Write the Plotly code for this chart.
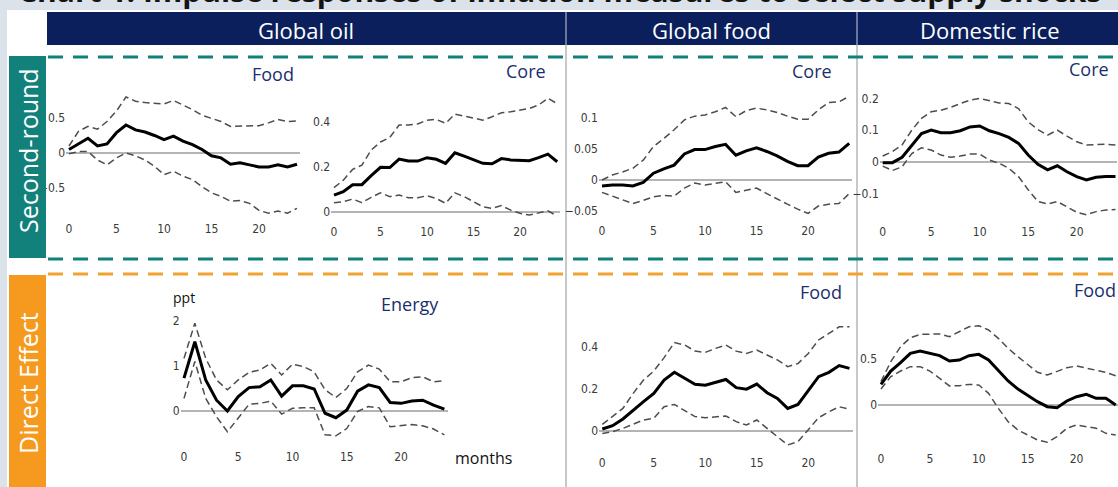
import plotly.graph_objects as go

# ---------------- data ----------------
months = list(range(25))
x_ticks = [0, 5, 10, 15, 20]

# Second-round: Global oil -> Food
oil_food_irf = [0.05, 0.13, 0.21, 0.10, 0.13, 0.29, 0.40, 0.33, 0.30, 0.25, 0.19, 0.24, 0.17,
                0.12, 0.05, -0.04, -0.07, -0.16, -0.14, -0.17, -0.20, -0.20, -0.17, -0.20, -0.16]
oil_food_hi = [0.10, 0.31, 0.38, 0.34, 0.45, 0.60, 0.80, 0.74, 0.72, 0.71, 0.70, 0.75, 0.69,
               0.62, 0.54, 0.50, 0.45, 0.38, 0.38, 0.38, 0.39, 0.43, 0.48, 0.45, 0.46]
oil_food_lo = [-0.01, 0.02, 0.02, -0.10, -0.17, -0.07, 0.00, -0.04, -0.10, -0.19, -0.31, -0.26, -0.33,
               -0.38, -0.48, -0.57, -0.62, -0.69, -0.68, -0.72, -0.82, -0.86, -0.83, -0.86, -0.79]

# Second-round: Global oil -> Core
oil_core_irf = [0.074, 0.089, 0.12, 0.12, 0.16, 0.197, 0.196, 0.234, 0.225, 0.225, 0.24, 0.233, 0.215,
                0.262, 0.247, 0.23, 0.215, 0.213, 0.236, 0.23, 0.228, 0.227, 0.24, 0.256, 0.222]
oil_core_hi = [0.107, 0.14, 0.188, 0.207, 0.274, 0.31, 0.33, 0.385, 0.385, 0.39, 0.407, 0.41, 0.393,
               0.434, 0.425, 0.415, 0.407, 0.422, 0.44, 0.444, 0.452, 0.459, 0.474, 0.504, 0.48]
oil_core_lo = [0.04, 0.044, 0.056, 0.04, 0.064, 0.084, 0.067, 0.074, 0.062, 0.062, 0.071, 0.059, 0.037,
               0.084, 0.067, 0.044, 0.022, 0.015, 0.027, 0.007, -0.007, -0.015, -0.004, 0.004, -0.019]

# Second-round: Global food -> Core
gfood_core_irf = [-0.0097, -0.008, -0.008, -0.0097, -0.004, 0.011, 0.018, 0.024, 0.042, 0.049, 0.049, 0.054,
                  0.0575, 0.040, 0.047, 0.052, 0.046, 0.039, 0.030, 0.023, 0.023, 0.037, 0.043, 0.045, 0.059]
gfood_core_hi = [0.0, 0.008, 0.013, 0.019, 0.032, 0.054, 0.067, 0.081, 0.097, 0.103, 0.105, 0.110,
                 0.117, 0.102, 0.112, 0.116, 0.113, 0.109, 0.103, 0.098, 0.098, 0.113, 0.125, 0.126, 0.135]
gfood_core_lo = [-0.020, -0.026, -0.032, -0.038, -0.033, -0.027, -0.025, -0.026, -0.013, -0.005, -0.008, -0.005,
                 -0.003, -0.020, -0.017, -0.013, -0.022, -0.031, -0.039, -0.047, -0.054, -0.042, -0.039, -0.038, -0.022]

# Second-round: Domestic rice -> Core
rice_core_irf = [-0.003, -0.003, 0.014, 0.053, 0.089, 0.10, 0.092, 0.092, 0.098, 0.11, 0.113, 0.098, 0.089,
                 0.077, 0.058, 0.021, -0.008, -0.026, -0.013, -0.032, -0.047, -0.058, -0.049, -0.047, -0.047]
rice_core_hi = [0.018, 0.032, 0.053, 0.10, 0.137, 0.158, 0.163, 0.172, 0.184, 0.195, 0.20, 0.192, 0.186,
                0.184, 0.168, 0.126, 0.102, 0.084, 0.10, 0.081, 0.063, 0.053, 0.055, 0.055, 0.053]
rice_core_lo = [-0.014, -0.028, -0.016, 0.026, 0.044, 0.037, 0.021, 0.014, 0.018, 0.024, 0.024, 0.005, -0.005,
                -0.021, -0.047, -0.089, -0.126, -0.134, -0.126, -0.142, -0.16, -0.168, -0.158, -0.153, -0.151]

# Direct effect: Global oil -> Energy
oil_energy_irf = [0.73, 1.54, 0.69, 0.24, 0.0, 0.32, 0.52, 0.54, 0.69, 0.33, 0.56, 0.56, 0.49,
                  -0.05, -0.15, 0.02, 0.44, 0.58, 0.52, 0.19, 0.17, 0.22, 0.24, 0.13, 0.04]
oil_energy_hi = [1.17, 1.95, 1.17, 0.69, 0.47, 0.69, 0.86, 0.91, 1.06, 0.80, 1.04, 0.99, 0.87,
                 0.47, 0.30, 0.50, 0.87, 1.02, 0.93, 0.65, 0.65, 0.74, 0.76, 0.65, 0.67]
oil_energy_lo = [0.28, 1.10, 0.28, -0.13, -0.46, -0.16, 0.15, 0.17, 0.22, -0.07, 0.06, 0.07, 0.07,
                 -0.53, -0.55, -0.39, -0.01, 0.10, 0.07, -0.35, -0.33, -0.30, -0.33, -0.40, -0.53]

# Direct effect: Global food -> Food
gfood_food_irf = [0.008, 0.024, 0.056, 0.095, 0.138, 0.178, 0.241, 0.278, 0.249, 0.221, 0.217, 0.230, 0.244,
                  0.205, 0.198, 0.222, 0.181, 0.154, 0.106, 0.125, 0.194, 0.257, 0.278, 0.310, 0.297]
gfood_food_hi = [0.03, 0.067, 0.106, 0.178, 0.241, 0.284, 0.348, 0.42, 0.408, 0.379, 0.373, 0.392, 0.408,
                 0.379, 0.368, 0.384, 0.36, 0.337, 0.305, 0.32, 0.368, 0.432, 0.463, 0.495, 0.495]
gfood_food_lo = [-0.013, -0.005, 0.011, 0.03, 0.051, 0.059, 0.114, 0.125, 0.098, 0.067, 0.062, 0.067, 0.07,
                 0.043, 0.027, 0.051, 0.011, -0.029, -0.068, -0.052, 0.003, 0.062, 0.09, 0.114, 0.103]

# Direct effect: Domestic rice -> Food
rice_food_irf = [0.221, 0.364, 0.454, 0.554, 0.579, 0.554, 0.529, 0.471, 0.482, 0.529, 0.543, 0.482, 0.364,
                 0.257, 0.171, 0.107, 0.036, -0.018, -0.029, 0.043, 0.089, 0.114, 0.071, 0.071, 0.0]
rice_food_hi = [0.25, 0.464, 0.625, 0.721, 0.757, 0.761, 0.761, 0.732, 0.786, 0.839, 0.85, 0.804, 0.714,
                0.607, 0.518, 0.429, 0.35, 0.321, 0.364, 0.4, 0.418, 0.393, 0.375, 0.35, 0.314]
rice_food_lo = [0.171, 0.304, 0.364, 0.411, 0.411, 0.364, 0.286, 0.204, 0.207, 0.221, 0.214, 0.125, -0.036,
                -0.179, -0.268, -0.321, -0.375, -0.4, -0.339, -0.25, -0.214, -0.232, -0.25, -0.304, -0.321]

oil_food_yticks = [-0.5, 0, 0.5]
oil_core_yticks = [0, 0.2, 0.4]
gfood_core_yticks = [-0.05, 0, 0.05, 0.1]
rice_core_yticks = [-0.1, 0, 0.1, 0.2]
oil_energy_yticks = [0, 1, 2]
gfood_food_yticks = [0, 0.2, 0.4]
rice_food_yticks = [0, 0.5]

shock_names = ["Global oil", "Global food", "Domestic rice"]
row_names = ["Second-round", "Direct Effect"]

# ---------------- layout helpers ----------------
W, H = 1118, 487


def px_x(p):
    return p / W


def px_y(p):
    return 1 - p / H


def xdom(x0, s, a=-0.3, b=24.3):
    return [max(0.0, (x0 + s * a) / W), min(1.0, (x0 + s * b) / W)]


def ydom(y0, k, lo, hi):
    return [px_y(y0 - k * lo), px_y(y0 - k * hi)]


# (name, irf, hi, lo, yticks, x0px, px_per_month, y0px, px_per_unit, ylo, yhi)
panels = [
    ("Food", oil_food_irf, oil_food_hi, oil_food_lo, oil_food_yticks, 69, 9.5, 153, 70, -0.957, 1.0),
    ("Core", oil_core_irf, oil_core_hi, oil_core_lo, oil_core_yticks, 334, 9.3, 211.7, 225, -0.05, 0.54),
    ("Core", gfood_core_irf, gfood_core_hi, gfood_core_lo, gfood_core_yticks, 602, 10.3, 180, 620, -0.067, 0.14),
    ("Core", rice_core_irf, rice_core_hi, rice_core_lo, rice_core_yticks, 882.7, 9.7, 161.7, 316, -0.194, 0.227),
    ("Energy", oil_energy_irf, oil_energy_hi, oil_energy_lo, oil_energy_yticks, 184, 10.85, 411, 45, -0.82, 2.24),
    ("Food", gfood_food_irf, gfood_food_hi, gfood_food_lo, gfood_food_yticks, 602.3, 10.3, 430.7, 210, -0.11, 0.575),
    ("Food", rice_food_irf, rice_food_hi, rice_food_lo, rice_food_yticks, 881, 9.78, 405, 93.3, -0.48, 1.02),
]

fig = go.Figure()
tick_font = dict(family="Liberation Sans Narrow, DejaVu Sans Condensed, Arial Narrow, sans-serif",
                 size=12, color="#3a3a3a")
layout_axes = {}
for i, (name, irf, hi, lo, yt, x0, s, y0, k, ylo, yhi) in enumerate(panels, start=1):
    xa = "x" if i == 1 else f"x{i}"
    ya = "y" if i == 1 else f"y{i}"
    for band in (hi, lo):
        fig.add_trace(go.Scatter(x=months, y=band, mode="lines", xaxis=xa, yaxis=ya,
                                 line=dict(color="#4d4d4d", width=1.5, dash="7px,4px"),
                                 showlegend=False, hoverinfo="skip"))
    fig.add_trace(go.Scatter(x=months, y=irf, mode="lines", xaxis=xa, yaxis=ya,
                             line=dict(color="#000000", width=3),
                             showlegend=False, hoverinfo="skip"))
    xk = "xaxis" if i == 1 else f"xaxis{i}"
    yk = "yaxis" if i == 1 else f"yaxis{i}"
    b = 24.2 if i in (4, 7) else 24.3
    layout_axes[xk] = dict(domain=xdom(x0, s, b=b), range=[-0.3, b], anchor=ya,
                           tickvals=x_ticks, showgrid=False, zeroline=False, showline=False,
                           ticks="", tickfont=tick_font, fixedrange=True)
    layout_axes[yk] = dict(domain=ydom(y0, k, ylo, yhi), range=[ylo, yhi], anchor=xa,
                           tickvals=yt, showgrid=False, zeroline=True, zerolinecolor="#b4b4b4",
                           zerolinewidth=1.5, showline=False, ticks="", tickfont=tick_font,
                           fixedrange=True)

fig.update_layout(**layout_axes)

# ---------------- decoration ----------------
navy = "#0b1f5c"
teal = "#12807b"
orange = "#f59a1e"
label_col = "#1b2f6e"
shapes = []
# light grey frame
shapes.append(dict(type="rect", xref="paper", yref="paper", x0=0, x1=px_x(7), y0=0, y1=1,
                   fillcolor="#dce2e9", line_width=0, layer="below"))
shapes.append(dict(type="rect", xref="paper", yref="paper", x0=0, x1=1, y0=px_y(10), y1=1,
                   fillcolor="#dce2e9", line_width=0, layer="below"))
# header bar
shapes.append(dict(type="rect", xref="paper", yref="paper", x0=px_x(47), x1=1, y0=px_y(45), y1=px_y(12),
                   fillcolor=navy, line_width=0, layer="below"))
# column separators
for xs in (566, 857):
    shapes.append(dict(type="line", xref="paper", yref="paper", x0=px_x(xs), x1=px_x(xs),
                       y0=px_y(12), y1=px_y(45), line=dict(color="#c9d0dc", width=1)))
    shapes.append(dict(type="line", xref="paper", yref="paper", x0=px_x(xs), x1=px_x(xs),
                       y0=px_y(45), y1=0, line=dict(color="#c8c8c8", width=2), layer="below"))
# dashed separators
for yy, col in ((57, teal), (259, teal), (274, "#f0a232")):
    shapes.append(dict(type="line", xref="paper", yref="paper", x0=px_x(48), x1=1,
                       y0=px_y(yy), y1=px_y(yy), line=dict(color=col, width=3, dash="15px,10px")))
# row boxes
shapes.append(dict(type="rect", xref="paper", yref="paper", x0=px_x(9), x1=px_x(46), y0=px_y(258), y1=px_y(56),
                   fillcolor=teal, line_width=0))
shapes.append(dict(type="rect", xref="paper", yref="paper", x0=px_x(9), x1=px_x(46), y0=0, y1=px_y(275),
                   fillcolor=orange, line_width=0))

annotations = []
annotations.append(dict(text="<b>Chart 1: Impulse responses of inflation measures to select supply shocks</b>",
                        xref="paper", yref="paper", x=px_x(16), y=px_y(13), xanchor="left", yanchor="bottom",
                        showarrow=False, font=dict(family="Open Sans", size=30, color="#141414")))
for name, cx in zip(shock_names, (306, 711, 990)):
    annotations.append(dict(text=name, xref="paper", yref="paper", x=px_x(cx), y=px_y(30),
                            xanchor="center", yanchor="middle", showarrow=False,
                            font=dict(family="Open Sans", size=22, color="white")))
for name, cy in zip(row_names, (151, 383)):
    annotations.append(dict(text=name, xref="paper", yref="paper", x=px_x(28), y=px_y(cy),
                            xanchor="center", yanchor="middle", showarrow=False, textangle=-90,
                            font=dict(family="Open Sans", size=25, color="white")))
# panel labels (right edge px, centre y px)
label_pos = [(296, 74), (548, 71), (834, 71), (1111, 69), (441, 304), (844, 292), (1118, 290)]
for (name, *_), (rx, cy) in zip(panels, label_pos):
    annotations.append(dict(text=name, xref="paper", yref="paper", x=px_x(rx), y=px_y(cy),
                            xanchor="right", yanchor="middle", showarrow=False,
                            font=dict(family="Open Sans", size=18, color=label_col)))
annotations.append(dict(text="ppt", xref="paper", yref="paper", x=px_x(184), y=px_y(297),
                        xanchor="center", yanchor="middle", showarrow=False,
                        font=dict(family="Open Sans", size=14, color="#111")))
annotations.append(dict(text="months", xref="paper", yref="paper", x=px_x(483), y=px_y(458),
                        xanchor="center", yanchor="middle", showarrow=False,
                        font=dict(family="Open Sans", size=16, color="#111")))

fig.update_layout(width=W, height=H, margin=dict(l=0, r=0, t=0, b=0),
                  paper_bgcolor="white", plot_bgcolor="rgba(0,0,0,0)",
                  shapes=shapes, annotations=annotations, showlegend=False)

fig.write_html("out.html", config={"displayModeBar": False})
